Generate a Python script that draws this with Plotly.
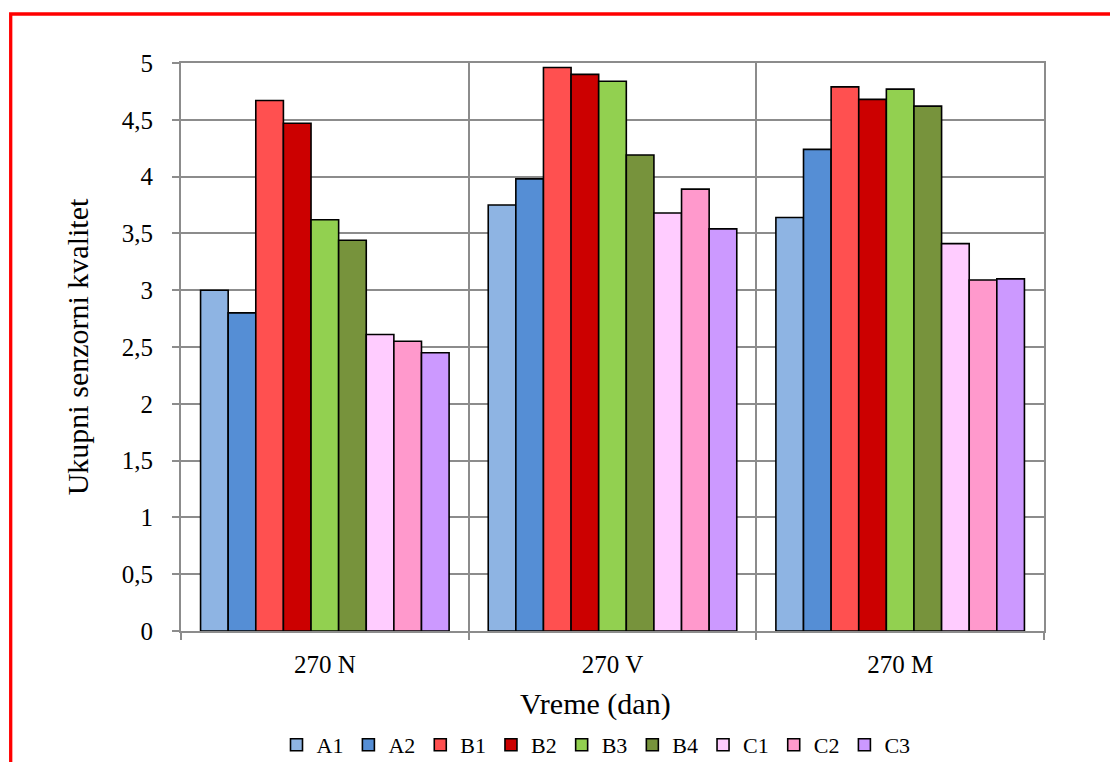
import plotly.graph_objects as go

# Sampling times (categories on the x axis)
categories = ["270 N", "270 V", "270 M"]

# Overall sensory quality per sample
series_names = ["A1", "A2", "B1", "B2", "B3", "B4", "C1", "C2", "C3"]
A1 = [3.00, 3.75, 3.64]
A2 = [2.80, 3.98, 4.24]
B1 = [4.67, 4.96, 4.79]
B2 = [4.47, 4.90, 4.68]
B3 = [3.62, 4.84, 4.77]
B4 = [3.44, 4.19, 4.62]
C1 = [2.61, 3.68, 3.41]
C2 = [2.55, 3.89, 3.09]
C3 = [2.45, 3.54, 3.10]
series_values = [A1, A2, B1, B2, B3, B4, C1, C2, C3]

colors = ["#8EB4E3", "#558ED5", "#FF5050", "#CC0000", "#92D050",
          "#77933C", "#FFCCFF", "#FF99CC", "#CC99FF"]

y_tickvals = [0, 0.5, 1, 1.5, 2, 2.5, 3, 3.5, 4, 4.5, 5]
y_ticktext = ["0", "0,5", "1", "1,5", "2", "2,5", "3", "3,5", "4", "4,5", "5"]

FONT = "Liberation Serif"
GRID = "#8C8C8C"

fig = go.Figure()
for name, vals, col in zip(series_names, series_values, colors):
    fig.add_trace(go.Bar(
        name=name, x=categories, y=vals,
        marker=dict(color=col, line=dict(color="black", width=1.6)),
    ))

W, H = 1110, 762
L, R, T, B = 181, 66, 63, 131
pw, ph = W - L - R, H - T - B

def px_x(x):
    return (x - L) / pw

def px_y(y):
    return (H - B - y) / ph

fig.update_layout(
    width=W, height=H,
    margin=dict(l=L, r=R, t=T, b=B, autoexpand=False),
    paper_bgcolor="white", plot_bgcolor="white",
    font=dict(family=FONT, color="black", size=25),
    barmode="group", bargap=0.136, bargroupgap=0,
    showlegend=True,
    legend=dict(
        orientation="h", x=px_x(596), xanchor="center",
        y=px_y(745), yanchor="middle",
        font=dict(family=FONT, size=22, color="black"),
        itemwidth=30, traceorder="normal", bgcolor="rgba(0,0,0,0)",
    ),
    xaxis=dict(
        type="category", tickson="boundaries",
        showgrid=True, gridcolor=GRID, gridwidth=2,
        showline=True, linecolor=GRID, linewidth=2, mirror=True,
        ticks="outside", ticklen=7, tickcolor=GRID, tickwidth=2,
        tickfont=dict(family=FONT, size=25, color="black"),
        ticklabelstandoff=10,
        automargin=False,
    ),
    yaxis=dict(
        range=[0, 5], tickvals=y_tickvals, ticktext=y_ticktext,
        showgrid=True, gridcolor=GRID, gridwidth=2,
        showline=True, linecolor=GRID, linewidth=2, mirror=True,
        ticks="outside", ticklen=7, tickcolor=GRID, tickwidth=2,
        tickfont=dict(family=FONT, size=25, color="black"),
        ticklabelstandoff=14,
        title=dict(text="Ukupni senzorni kvalitet", font=dict(family=FONT, size=30, color="black"),
                   standoff=24),
        zeroline=False, automargin=False,
    ),
    annotations=[dict(
        text="Vreme (dan)", xref="paper", yref="paper",
        x=px_x(595), y=px_y(704), xanchor="center", yanchor="middle",
        showarrow=False, font=dict(family=FONT, size=30, color="black"),
    )],
    shapes=[dict(
        type="rect", xref="paper", yref="paper",
        x0=px_x(10.7), x1=px_x(1114), y0=px_y(14), y1=px_y(770),
        line=dict(color="#FF0000", width=3.3), fillcolor="rgba(0,0,0,0)",
        layer="above",
    )],
)

fig.write_html("out.html")
